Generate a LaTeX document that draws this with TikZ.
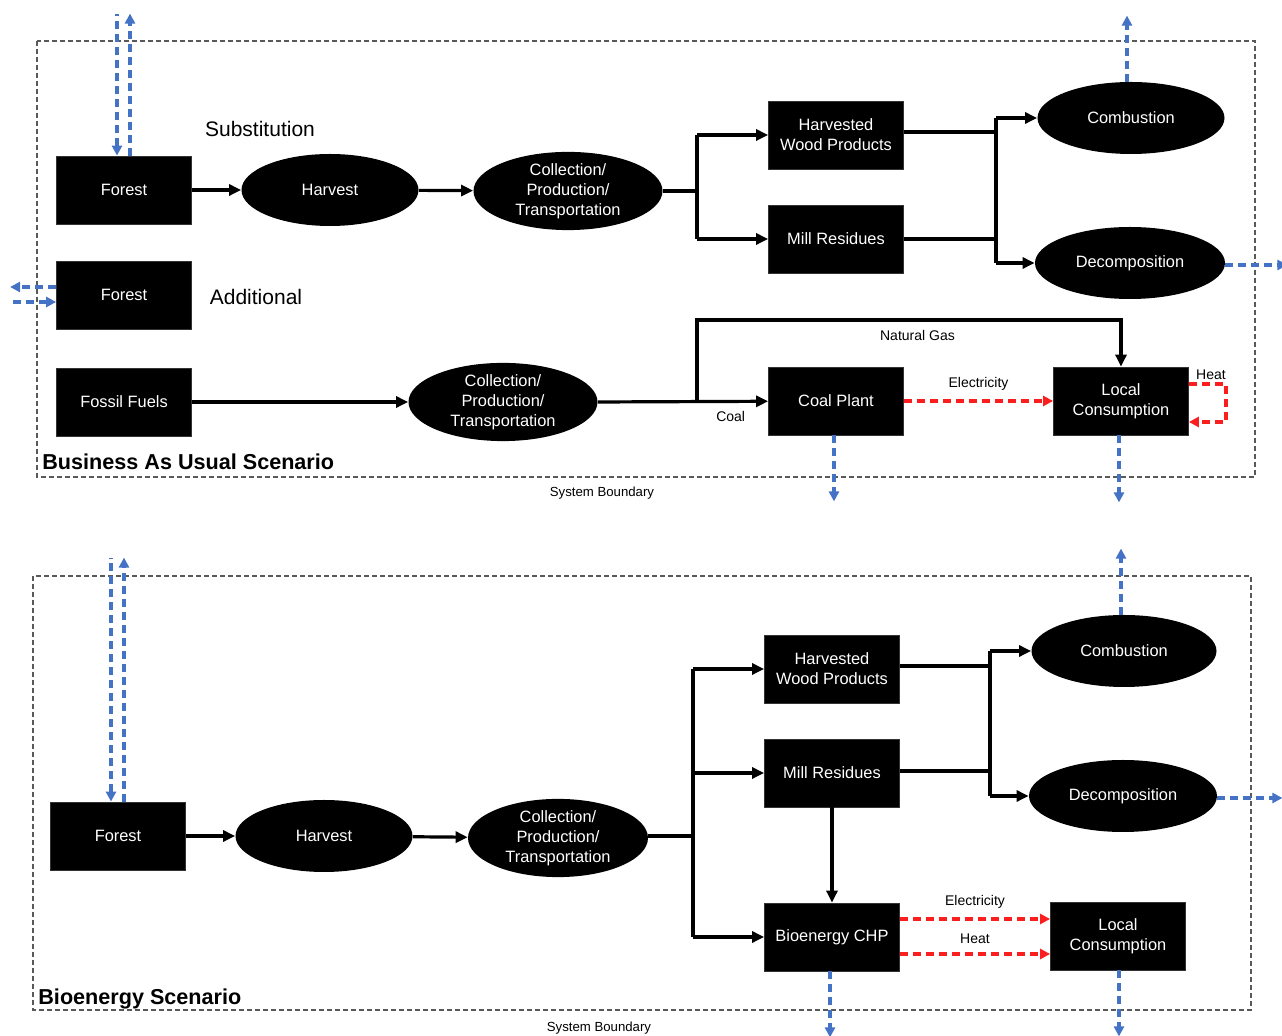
\documentclass[tikz,border=0pt]{standalone}
\usepackage{fontspec}
\setmainfont{Liberation Sans}
\usetikzlibrary{shapes.geometric,arrows.meta}
\tikzset{
  box/.style={draw=black!80, fill=black, text=white, minimum width=67.5pt, minimum height=34pt,
    inner sep=1pt, align=center, font=\fontsize{8.2}{10}\selectfont},
  oval/.style={ellipse, fill=black, text=white, minimum width=88.5pt, minimum height=36pt,
    inner sep=0pt, align=center, font=\fontsize{8.2}{10}\selectfont},
  wideoval/.style={oval, minimum width=94.5pt, minimum height=35.5pt},
  flow/.style={line width=1.6pt, -{Triangle[length=6pt,width=5.5pt]}},
  plain/.style={line width=1.6pt},
  dashtip/.style={>={Triangle[length=5pt,width=5pt]}, line width=1.7pt, dash pattern=on 4pt off 2.5pt},
  co2/.style={dashtip, draw=blueco, ->},
  co2in/.style={dashtip, draw=blueco, <-},
  power/.style={dashtip, draw=redpow, ->},
  boundary/.style={draw=black!65, line width=0.7pt, dash pattern=on 2.5pt off 1.5pt},
  note/.style={font=\fontsize{7}{8}\selectfont},
  bignote/.style={font=\fontsize{10.5}{12}\selectfont},
  title/.style={font=\bfseries\fontsize{10.8}{12}\selectfont, anchor=base west, inner sep=0pt},
}
\definecolor{blueco}{RGB}{68,114,196}
\definecolor{redpow}{RGB}{250,30,30}
\begin{document}
\begin{tikzpicture}[x=0.5pt, y=-0.5pt]
  \useasboundingbox (0,0) rectangle (1282,1036);

  % --- business as usual ---
  \draw[boundary] (37,41) rectangle (1255,477);
  \node[box] (forestA) at (124,190) {Forest};
  \node[oval] (harvestA) at (330,190) {Harvest};
  \node[wideoval] (collA) at (568,191) {Collection/\\Production/\\Transportation};
  \node[box] (hwpA) at (836,135) {Harvested\\Wood Products};
  \node[box] (millA) at (836,239) {Mill Residues};
  \node[oval, minimum width=93.5pt] (combA) at (1131,118) {Combustion};
  \node[oval, minimum width=95pt] (decA) at (1130,263) {Decomposition};
  \node[box] (forestB) at (124,295) {Forest};
  \node[box] (fossil) at (124,402) {Fossil Fuels};
  \node[wideoval, minimum height=36pt] (collB) at (503,402) {Collection/\\Production/\\Transportation};
  \node[box] (coal) at (836,401) {Coal Plant};
  \node[box] (localA) at (1121,401) {Local\\Consumption};
  \node[bignote] (subst) at (260,129) {Substitution};
  \node[bignote] (addit) at (256,297) {Additional};
  \node[title] (bauT) at (42,470) {Business As Usual Scenario};
  \node[note, font=\fontsize{6.6}{8}\selectfont] (sysA) at (602,493) {System Boundary};

  \draw[flow] (forestA) -- (harvestA);
  \draw[flow] (harvestA) -- (collA);
  \draw[plain] (collA.east) -- (697,191) coordinate (brA);
  \draw[plain] (brA |- hwpA) -- (brA |- millA);
  \draw[flow] (brA |- hwpA) -- (hwpA);
  \draw[flow] (brA |- millA) -- (millA);
  \draw[plain] (hwpA.east |- 0,132) -- (996,132) coordinate (brB);
  \draw[plain] (millA) -- (brB |- millA);
  \draw[plain] (brB |- combA) -- (brB |- decA);
  \draw[flow] (brB |- combA) -- (combA);
  \draw[flow] (brB |- decA) -- (decA);
  \draw[flow] (fossil) -- (collB);
  \draw[flow] (collB.east) -- node[note, below, pos=0.78, yshift=-1pt] (coalT) {Coal} (coal);
  \draw[flow] (697,402) -- (697,320) -- node[note, below, pos=0.52, yshift=-1pt] (gasT) {Natural Gas} (localA.north |- 0,320) -- (localA);
  \draw[power] (coal) -- node[note, above, yshift=1pt] (elecA) {Electricity} (localA);
  \draw[power] (localA.east |- 0,384) -- (1226,384) -- (1226,422) -- (localA.east |- 0,422);
  \node[note] (heatA) at (1211,375) {Heat};

  \draw[co2in] ([xshift=-3.5pt]forestA.north) -- ++(0,-142);
  \draw[co2] ([xshift=3pt]forestA.north) -- ++(0,-142);
  \draw[co2] ([yshift=4pt]forestB.west) -- ++(-46,0);
  \draw[co2in] ([yshift=-3.5pt]forestB.west) -- ++(-46,0);
  \draw[co2] ([xshift=-2pt]combA.north) -- ++(0,-66);
  \draw[co2] ([yshift=-1pt]decA.east) -- ++(62,0);
  \draw[co2] ([xshift=-1pt]coal.south) -- ++(0,66);
  \draw[co2] ([xshift=-1pt]localA.south) -- ++(0,67);

  % --- bioenergy ---
  \draw[boundary] (33,576) rectangle (1251,1010);
  \node[box] (forestC) at (118,836) {Forest};
  \node[oval] (harvestC) at (324,836) {Harvest};
  \node[wideoval, minimum width=90pt] (collC) at (558,838) {Collection/\\Production/\\Transportation};
  \node[box] (hwpC) at (832,669) {Harvested\\Wood Products};
  \node[box] (millC) at (832,773) {Mill Residues};
  \node[box] (chp) at (832,937) {Bioenergy CHP};
  \node[box] (localC) at (1118,936) {Local\\Consumption};
  \node[oval, minimum width=92.5pt] (combC) at (1124,651) {Combustion};
  \node[oval, minimum width=94pt] (decC) at (1123,796) {Decomposition};
  \node[title] (bioT) at (38,1005) {Bioenergy Scenario};
  \node[note, font=\fontsize{6.6}{8}\selectfont] (sysC) at (599,1028) {System Boundary};

  \draw[flow] (forestC) -- (harvestC);
  \draw[flow] (harvestC) -- (collC);
  \draw[plain] (collC.east |- 0,836) -- (693,836) coordinate (brC);
  \draw[plain] (brC |- hwpC) -- (brC |- chp);
  \draw[flow] (brC |- hwpC) -- (hwpC);
  \draw[flow] (brC |- millC) -- (millC);
  \draw[flow] (brC |- chp) -- (chp);
  \draw[plain] (hwpC.east |- 0,666) -- (990,666) coordinate (brD);
  \draw[plain] (millC.east |- 0,771) -- (brD |- 0,771);
  \draw[plain] (brD |- combC) -- (brD |- decC);
  \draw[flow] (brD |- combC) -- (combC);
  \draw[flow] (brD |- decC) -- (decC);
  \draw[flow] (millC) -- (chp);
  \draw[power] (chp.east |- 0,919) -- node[note, above, yshift=1pt] (elecC) {Electricity} (localC.west |- 0,919);
  \draw[power] (chp.east |- 0,954) -- node[note, above, yshift=1pt] (heatC) {Heat} (localC.west |- 0,954);

  \draw[co2in] ([xshift=-3.5pt]forestC.north) -- ++(0,-244);
  \draw[co2] ([xshift=3pt]forestC.north) -- ++(0,-244);
  \draw[co2] ([xshift=-1.5pt]combC.north) -- ++(0,-66);
  \draw[co2] ([yshift=-1pt]decC.east) -- ++(65,0);
  \draw[co2] ([xshift=-1pt]chp.south) -- ++(0,66);
  \draw[co2] ([xshift=0.5pt]localC.south) -- ++(0,66);
\end{tikzpicture}
\end{document}
